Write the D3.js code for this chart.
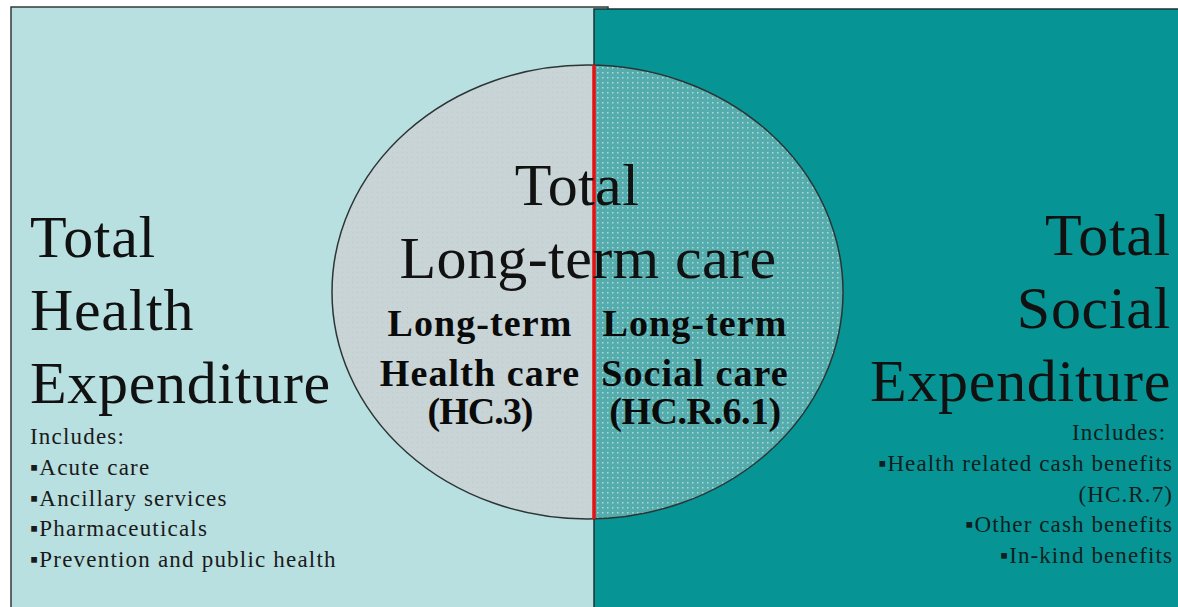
<!DOCTYPE html>
<html>
<head>
<meta charset="utf-8">
<script src="https://cdn.jsdelivr.net/npm/d3@7"></script>
<style>
  html, body { margin: 0; padding: 0; background: #ffffff; }
  svg { display: block; }
</style>
</head>
<body>
<div id="chart"></div>
<script>
// ---- content ----
const leftTitle = ["Total", "Health", "Expenditure"];
const rightTitle = ["Total", "Social", "Expenditure"];
const centerTitle = ["Total", "Long-term care"];
const healthCare = ["Long-term", "Health care", "(HC.3)"];
const socialCare = ["Long-term", "Social care", "(HC.R.6.1)"];
const leftIncludes = ["Includes:", "\u25AAAcute care", "\u25AAAncillary services", "\u25AAPharmaceuticals", "\u25AAPrevention and public health"];
const rightIncludes = ["Includes: ", "\u25AAHealth related cash benefits", "(HC.R.7)", "\u25AAOther cash benefits", "\u25AAIn-kind benefits"];

const W = 1178, H = 607;
const svg = d3.select("#chart").append("svg").attr("width", W).attr("height", H);
const defs = svg.append("defs");

// dotted pattern for the social half of the circle
const pat = defs.append("pattern").attr("id", "dots").attr("width", 5).attr("height", 5)
  .attr("patternUnits", "userSpaceOnUse");
pat.append("rect").attr("width", 5).attr("height", 5).attr("fill", "#55acac");
pat.append("rect").attr("x", 2).attr("y", 2).attr("width", 1.5).attr("height", 1.5).attr("fill", "#b0dada");

const pat2 = defs.append("pattern").attr("id", "dots2").attr("width", 5).attr("height", 5)
  .attr("patternUnits", "userSpaceOnUse");
pat2.append("rect").attr("width", 5).attr("height", 5).attr("fill", "#c8d4d6");
pat2.append("rect").attr("x", 2).attr("y", 2).attr("width", 1).attr("height", 1).attr("fill", "#bccacd");

// layout
const splitX = 594;
const cx = 587.5, cy = 292, rx = 255.5, ry = 227;

defs.append("clipPath").attr("id", "leftHalf").append("rect")
  .attr("x", 0).attr("y", 0).attr("width", splitX).attr("height", H);
defs.append("clipPath").attr("id", "rightHalf").append("rect")
  .attr("x", splitX).attr("y", 0).attr("width", W - splitX).attr("height", H);

// panels
svg.append("rect").attr("x", 11).attr("y", 7).attr("width", splitX - 11 + 14).attr("height", H)
  .attr("fill", "#b9e0e1").attr("stroke", "#2f3a3a").attr("stroke-width", 1.5);
svg.append("rect").attr("x", splitX).attr("y", 9).attr("width", W - splitX + 5).attr("height", H)
  .attr("fill", "#079494").attr("stroke", "#1a3434").attr("stroke-width", 1.5);

// circle halves
svg.append("ellipse").attr("cx", cx).attr("cy", cy).attr("rx", rx).attr("ry", ry)
  .attr("fill", "url(#dots2)").attr("clip-path", "url(#leftHalf)");
svg.append("ellipse").attr("cx", cx).attr("cy", cy).attr("rx", rx).attr("ry", ry)
  .attr("fill", "url(#dots)").attr("clip-path", "url(#rightHalf)");
svg.append("ellipse").attr("cx", cx).attr("cy", cy).attr("rx", rx).attr("ry", ry)
  .attr("fill", "none").attr("stroke", "#2b3535").attr("stroke-width", 1.5);

// red divider
svg.append("line").attr("x1", splitX).attr("x2", splitX).attr("y1", cy - ry).attr("y2", cy + ry)
  .attr("stroke", "#e81010").attr("stroke-width", 3.5);

const serif = "'Liberation Serif', 'Times New Roman', serif";

// big side titles
const bigY = d3.scalePoint().domain(d3.range(3)).range([257, 403]);
svg.append("g").selectAll("text").data(leftTitle).join("text")
  .attr("x", 30).attr("y", (d, i) => bigY(i))
  .attr("font-family", serif).attr("font-size", 60).attr("letter-spacing", 0.7).attr("fill", "#111")
  .text(d => d);
svg.append("g").selectAll("text").data(rightTitle).join("text")
  .attr("x", 1171).attr("y", (d, i) => bigY(i) - 2).attr("text-anchor", "end")
  .attr("font-family", serif).attr("font-size", 60).attr("letter-spacing", 0.7).attr("fill", "#111")
  .text(d => d);

// center title
const cY = d3.scalePoint().domain(d3.range(2)).range([205, 278]);
svg.append("g").selectAll("text").data(centerTitle).join("text")
  .attr("x", (d, i) => i === 0 ? 577 : 588).attr("y", (d, i) => cY(i)).attr("text-anchor", "middle")
  .attr("font-family", serif).attr("font-size", 60).attr("letter-spacing", 0.4).attr("fill", "#111")
  .text(d => d);

// bold sub-labels
const bY = d3.scaleLinear().domain([0, 1, 2]).range([336, 386, 424]);
svg.append("g").selectAll("text").data(healthCare).join("text")
  .attr("x", 480).attr("y", (d, i) => bY(i)).attr("text-anchor", "middle")
  .attr("font-family", serif).attr("font-size", 38).attr("font-weight", "bold")
  .attr("letter-spacing", (d, i) => i === 2 ? -1 : 1.1).attr("fill", "#0a0a0a")
  .text(d => d);
svg.append("g").selectAll("text").data(socialCare).join("text")
  .attr("x", 695).attr("y", (d, i) => bY(i)).attr("text-anchor", "middle")
  .attr("font-family", serif).attr("font-size", 38).attr("font-weight", "bold")
  .attr("letter-spacing", (d, i) => i === 2 ? -0.5 : 1.1).attr("fill", "#0a0a0a")
  .text(d => d);

// includes lists
const sY = d3.scalePoint().domain(d3.range(5)).range([444, 567]);
svg.append("g").selectAll("text").data(leftIncludes).join("text")
  .attr("x", 30).attr("y", (d, i) => sY(i))
  .attr("font-family", serif).attr("font-size", 23).attr("letter-spacing", 1.2)
  .attr("fill", "#1a1a1a").text(d => d);
const rY = d3.scalePoint().domain(d3.range(5)).range([440, 563]);
svg.append("g").selectAll("text").data(rightIncludes).join("text")
  .attr("x", 1173).attr("y", (d, i) => rY(i)).attr("text-anchor", "end")
  .attr("font-family", serif).attr("font-size", 23).attr("letter-spacing", 1.1)
  .attr("fill", "#0d1f1f").style("white-space", "pre").text(d => d);
</script>
</body>
</html>
